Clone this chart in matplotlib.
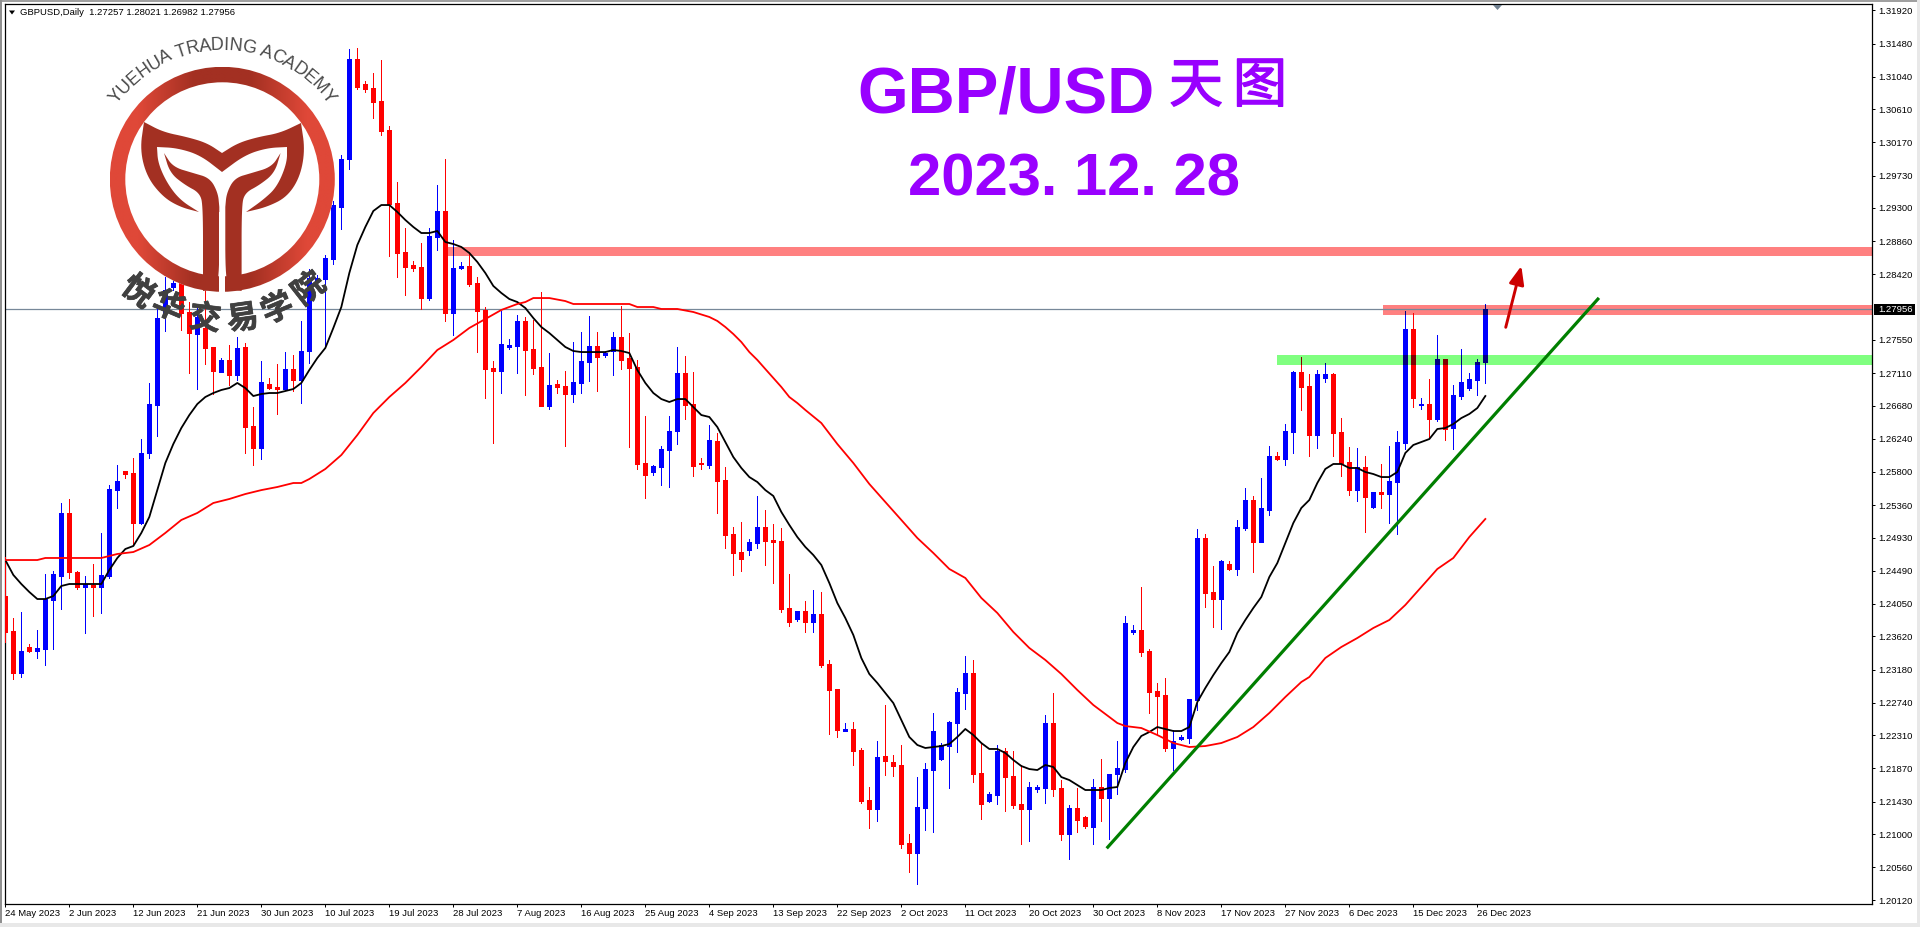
import matplotlib
matplotlib.use('Agg')
import matplotlib.pyplot as plt
import matplotlib.patheffects as pe
import numpy as np
from matplotlib.font_manager import FontProperties
from matplotlib.patches import Circle, Polygon, Rectangle
from matplotlib.textpath import text_to_path

plt.rcParams['font.family'] = ['Liberation Sans', 'Noto Sans CJK SC']

# prices are in MT4 points (1/100000)
highs = [124673,123864,123944,123520,123705,124448,124487,125389,125442,124487,
         124421,124580,124992,125627,125893,125813,125986,126237,126980,128014,
         128385,128371,128371,128053,128014,128212,127457,127311,127483,127589,
         127510,126661,127271,127046,127232,127390,127351,127802,128491,128411,
         128676,129392,130002,131407,131421,130983,131089,131262,130387,129644,
         129034,128597,128836,129034,129604,129949,128875,128584,128716,128385,
         127987,127271,127934,127563,127881,127855,127815,128186,127377,127019,
         127139,127523,127656,127868,127656,127404,127656,128000,127642,127285,
         126542,125893,126145,126542,127457,127337,127126,125986,126423,126317,
         125866,125071,125137,124911,125482,125296,125111,125058,124448,123957,
         124090,124235,124209,123308,122923,122472,122486,122141,121624,122234,
         122711,122048,122181,121000,121756,121942,122605,122207,122499,122936,
         123361,123308,122207,121557,122181,122141,122101,121916,121690,121650,
         122578,122870,121716,121385,121611,121239,121730,121995,121796,122234,
         123891,123771,124275,123453,123003,123069,122379,122313,122790,125045,
         124978,124554,124633,124620,125164,125587,125482,125720,126145,126065,
         126436,127139,127324,127099,127152,127245,127112,126515,126131,126118,
         126012,125535,125906,126145,126343,127934,127908,126781,127033,127616,
         127298,126953,127430,127112,127298,128021]
lows = [123546,123055,123082,123414,123334,123241,123453,123984,124395,124249,
        123665,123891,123931,124395,125323,125720,124832,125111,125986,126277,
        127669,128212,127682,127112,126900,127232,126834,127126,126953,127019,
        126052,125893,125972,126900,126569,126887,126874,126714,127245,128319,
        127483,128557,129021,129817,130877,130837,130493,130267,128663,128385,
        128146,128464,127961,128080,128743,127802,127616,128491,128266,127390,
        126781,126184,126847,127430,127112,126821,127099,126675,126635,126847,
        126145,126728,126847,127006,126874,127324,127086,127165,126131,125840,
        125455,125760,125627,125601,126171,126502,125747,125840,125853,125257,
        124792,124435,124487,124699,124792,124567,124328,123944,123758,123824,
        123679,123679,123214,122326,122287,122366,121916,121411,121080,121173,
        121783,121769,120815,120497,120337,121054,121027,121982,121611,122088,
        122658,121690,121200,121424,121398,121305,121345,120868,120908,121557,
        121411,121504,120921,120669,121027,121080,120868,121173,120934,121531,
        121823,123652,123361,122605,122313,122101,121849,122247,122207,122645,
        124010,123745,123718,124501,124435,125031,124474,124872,125230,125959,
        125893,126052,126622,126012,126118,126993,126012,125747,125494,125416,
        125005,125323,125323,125124,124978,126105,126661,126635,126264,126476,
        126224,126105,126767,126887,126821,126982]
opens = [124156,123692,123135,123480,123427,123453,124103,124421,125257,124474,
         124275,124302,124275,124421,125560,125813,125786,125124,126052,126688,
         127908,128252,128305,127921,127629,127709,127457,127126,127285,127086,
         127457,126409,126118,126966,126927,126900,127165,127019,127404,128332,
         128358,128623,129313,129949,131275,130943,130890,130718,130334,129366,
         128716,128544,128517,128106,128915,129260,127908,128504,128531,128305,
         127948,127178,127139,127457,127470,127802,127430,127192,126675,126966,
         126940,126834,126980,127258,127470,127351,127404,127589,127311,127192,
         125919,125800,125866,126091,126343,127112,126701,125919,125893,126211,
         125694,124978,124739,124766,124858,125071,124898,124885,123997,123851,
         123957,123811,123917,123255,122923,122366,122393,122114,121451,121332,
         122035,121955,121916,120881,120748,121345,121849,121995,122167,122472,
         122870,123135,121809,121438,121517,122101,121769,121398,121332,121597,
         121611,122472,121611,121000,121345,121226,121093,121624,121478,121796,
         121862,123679,123705,123427,122896,122843,122141,122260,122273,122777,
         124925,124209,124116,124580,124514,125058,125429,124872,125296,126012,
         125972,126330,127126,126940,126290,127046,127099,126330,125932,125560,
         125866,125336,125535,125508,125667,126184,127695,126688,126701,126502,
         127298,126383,126807,126913,127019,127257]
closes = [123679,123135,123427,123427,123467,124116,124448,125257,124474,124275,
          124315,124275,124435,125574,125681,125773,125124,126052,126701,127841,
          128212,128305,127908,127642,127855,127444,127139,127285,127086,127444,
          126396,126118,126993,126913,126900,127165,127019,127404,128371,128371,
          128637,129339,129949,131275,130904,130877,130705,130320,129353,128703,
          128517,128504,128106,128928,129260,127908,128504,128531,128292,127934,
          127165,127139,127497,127483,127802,127417,127178,126675,126953,126927,
          126834,126993,127271,127470,127324,127377,127589,127285,127178,125906,
          125760,125879,126105,126343,127112,126688,125879,125906,126224,125681,
          124965,124726,124646,124872,125071,124885,124872,123984,123811,123957,
          123811,123917,123241,122910,122379,122393,122101,121438,121332,122022,
          121969,121902,120868,120748,121358,121862,122366,122181,122486,122883,
          123135,121796,121398,121531,122101,121756,121385,121332,121624,121624,
          122472,121597,121000,121345,121186,121107,121624,121478,121796,121876,
          123798,123705,123414,122883,122830,122141,122234,122287,122790,124925,
          124196,124116,124620,124514,125071,125429,124872,125323,126012,125972,
          126343,127126,126927,126290,127099,127099,126317,125919,125560,125866,
          125468,125535,125508,125681,126197,127695,126781,126701,126502,127298,
          126370,126821,126993,127033,127258,127956]

# black moving average, one value per candle
ma_black = [124633,124435,124315,124209,124116,124116,124156,124289,124315,124315,
            124315,124315,124315,124501,124660,124779,124819,124992,125204,125560,
            125919,126171,126383,126555,126701,126794,126847,126887,126913,126980,
            126913,126807,126834,126847,126847,126874,126900,126980,127152,127311,
            127444,127709,127987,128438,128809,129048,129260,129339,129339,129247,
            129141,129048,128968,128968,128995,128849,128822,128783,128703,128584,
            128438,128266,128173,128093,128053,127974,127841,127722,127642,127550,
            127457,127404,127390,127390,127390,127390,127417,127404,127377,127152,
            126980,126847,126767,126728,126767,126767,126661,126555,126529,126396,
            126197,125998,125853,125733,125667,125560,125482,125270,125098,124938,
            124806,124699,124567,124328,124063,123864,123639,123334,123122,123003,
            122870,122737,122512,122287,122181,122141,122154,122167,122194,122287,
            122393,122313,122207,122128,122128,122075,121982,121902,121862,121849,
            121916,121889,121756,121716,121650,121584,121584,121584,121611,121624,
            121942,122154,122300,122353,122419,122393,122366,122366,122419,122750,
            122936,123108,123267,123414,123665,123838,123997,124143,124408,124593,
            124858,125124,125323,125429,125654,125840,125906,125906,125853,125853,
            125800,125773,125733,125733,125800,126052,126158,126197,126237,126370,
            126383,126436,126515,126569,126648,126807]

# red moving average, read at these candles
ma_red_idx = [0,4,5,8,12,14,16,18,20,22,24,26,28,30,32,34,36,37,38,40,42,44,46,48,50,
              52,54,56,58,60,62,64,65,66,68,70,71,78,79,81,82,84,86,88,89,90,91,92,93,
              94,95,96,97,98,99,100,102,104,106,108,110,112,114,116,118,120,122,124,
              126,128,130,132,134,136,138,139,140,142,144,146,148,150,152,154,156,158,
              160,162,163,165,167,169,171,173,175,177,179,181,183,185]
ma_red = [124633,124633,124660,124660,124660,124713,124739,124832,124992,125164,125257,
          125389,125442,125508,125560,125601,125654,125654,125707,125840,126025,126290,
          126582,126794,126980,127192,127417,127550,127709,127828,127948,128027,128053,
          128106,128106,128066,128027,128027,127987,127987,127961,127961,127921,127855,
          127802,127722,127629,127523,127390,127285,127165,127046,126927,126794,126714,
          126622,126449,126171,125919,125641,125402,125164,124925,124726,124514,124395,
          124130,123931,123679,123467,123308,123122,122910,122711,122552,122472,122432,
          122406,122313,122207,122154,122167,122207,122287,122419,122605,122817,123016,
          123082,123334,123480,123599,123732,123838,124037,124275,124514,124660,124938,
          125177]

x_tick_idx = [0,8,16,24,32,40,48,56,64,72,80,88,96,104,112,120,128,136,144,152,160,168,176,184]
x_labels = ['24 May 2023','2 Jun 2023','12 Jun 2023','21 Jun 2023','30 Jun 2023','10 Jul 2023',
            '19 Jul 2023','28 Jul 2023','7 Aug 2023','16 Aug 2023','25 Aug 2023','4 Sep 2023',
            '13 Sep 2023','22 Sep 2023','2 Oct 2023','11 Oct 2023','20 Oct 2023','30 Oct 2023',
            '8 Nov 2023','17 Nov 2023','27 Nov 2023','6 Dec 2023','15 Dec 2023','26 Dec 2023']
y_ticks = [1.31920,1.31480,1.31040,1.30610,1.30170,1.29730,1.29300,1.28860,1.28420,
           1.27550,1.27110,1.26680,1.26240,1.25800,1.25360,1.24930,1.24490,1.24050,
           1.23620,1.23180,1.22740,1.22310,1.21870,1.21430,1.21000,1.20560,1.20120]

last_price = 1.27956
# zones: first candle, low price, high price, colour
zones = [(55.2, 1.28663, 1.28783, '#FF8080'),
         (172.2, 1.27881, 1.28014, '#FF8080'),
         (159.0, 1.27218, 1.27351, '#80FF80')]
trend_x = [137.67, 199.2]
trend_y = [1.20811, 1.28108]
arrow_x = [187.55, 189.5]
arrow_y = [1.27718, 1.28531]

W, H = 1920, 927
fig = plt.figure(figsize=(W/100, H/100), dpi=100, facecolor='white')

# plot frame in pixels: x 4.7..1872.3, y 4.3..904.3
ax = fig.add_axes([4.7/W, (H-904.3)/H, 1867.6/W, 900/H], zorder=1)
ax.set_xlim((4.7-5.33)/8, (1872.3-5.33)/8)
ax.set_ylim(1.20069, 1.32000)

o = np.array(opens)/1e5
h = np.array(highs)/1e5
l = np.array(lows)/1e5
c = np.array(closes)/1e5
idx = np.arange(len(o))
up = c >= o


def candles(col_up, col_down, z, clip=None):
    cols = [col_up if u else col_down for u in up]
    wick = ax.vlines(idx, l, h, colors=cols, lw=0.72, antialiased=False, zorder=z)
    body = ax.vlines(idx, np.minimum(o, c), np.maximum(o, c), colors=cols, lw=3.6,
                     antialiased=False, zorder=z)
    if clip is not None:
        wick.set_clip_path(clip)
        body.set_clip_path(clip)


x_right = ax.get_xlim()[1]
for x0, lo, hi, col in zones:
    ax.add_patch(Rectangle((x0, lo), x_right-x0, hi-lo, fc=col, ec='none', zorder=1))

ax.axhline(last_price, color='#778899', lw=0.9, zorder=2)
candles('#0000FF', '#FF0000', 3)

# zones multiply the candles under them
for x0, lo, hi, col in zones:
    rect = Rectangle((x0, lo), x_right-x0, hi-lo, transform=ax.transData)
    candles('#000080', '#800000' if col == '#80FF80' else '#FF0000', 3.5, clip=rect)

ax.plot(idx, np.array(ma_black)/1e5, color='black', lw=1.3, zorder=4)
ax.plot(ma_red_idx, np.array(ma_red)/1e5, color='#FF0000', lw=1.3, zorder=4)
ax.plot(trend_x, trend_y, color='#007F00', lw=2.3, solid_capstyle='butt', zorder=5)
ax.annotate('', xy=(arrow_x[1], arrow_y[1]), xytext=(arrow_x[0], arrow_y[0]), zorder=5,
            arrowprops=dict(arrowstyle='-|>,head_length=1.1,head_width=0.45', color='#CC0000',
                            lw=2.1, shrinkA=0, shrinkB=0, mutation_scale=10))

ax.set_xticks(x_tick_idx, x_labels, ha='left')
ax.set_yticks(y_ticks, ['%.5f' % v for v in y_ticks])
ax.yaxis.tick_right()
ax.tick_params(axis='x', length=2.2, width=0.72, pad=1.5, labelsize=6.8)
ax.tick_params(axis='y', length=2.2, width=0.72, pad=2.2, labelsize=6.8)
for s in ax.spines.values():
    s.set_linewidth(0.9)

# everything below is placed in screen pixels
ov = fig.add_axes([0, 0, 1, 1], zorder=2)
ov.set_xlim(0, W)
ov.set_ylim(H, 0)
ov.axis('off')
ov.patch.set_alpha(0)

# window edges
ov.add_patch(Rectangle((0, 0), W, 1.6, fc='#A0A0A0', ec='none'))
ov.add_patch(Rectangle((0, 0), 1.5, H, fc='#909090', ec='none'))
ov.add_patch(Rectangle((0, 923), W, 4, fc='#E8E8E8', ec='none'))
ov.add_patch(Rectangle((1917, 0), 3, H, fc='#E8E8E8', ec='none'))

ov.add_patch(Polygon([(1493, 5), (1502, 5), (1497.5, 10)], fc='#708090', ec='none'))
ov.add_patch(Polygon([(9, 10.5), (15, 10.5), (12, 14.5)], fc='black', ec='none'))
ov.text(20, 12.5, 'GBPUSD,Daily  1.27257 1.28021 1.26982 1.27956', fontsize=6.8,
        color='black', va='center', ha='left')

# last price box
ov.add_patch(Rectangle((1874, 304), 41, 11, fc='black', ec='none'))
ov.text(1878, 309.5, '%.5f' % last_price, fontsize=6.8, color='white', va='center', ha='left')

# titles
PURPLE = '#9900FF'
ov.text(857, 112, 'GBP/USD', fontsize=47, fontweight='bold', color=PURPLE, va='baseline', ha='left')
for ch, px in [('天', 1196), ('图', 1260)]:
    ov.text(px, 88, ch, fontsize=39, color=PURPLE, va='center', ha='center',
            path_effects=[pe.withStroke(linewidth=1.0, foreground=PURPLE)])
ov.text(1074, 195, '2023. 12. 28', fontsize=43, fontweight='bold', color=PURPLE,
        va='baseline', ha='center')


# logo
def smooth(pts, n=3):
    pts = np.array(pts, float)
    for _ in range(n):
        q = 0.75*pts[:-1] + 0.25*pts[1:]
        r = 0.25*pts[:-1] + 0.75*pts[1:]
        mid = np.empty((2*len(q), 2))
        mid[0::2] = q
        mid[1::2] = r
        pts = np.vstack([pts[0], mid, pts[-1]])
    return pts


LX, LY = 222.3, 179.3
DARK = '#A33022'
ov.add_patch(Circle((LX, LY), 112.5, fc='white', ec='none', zorder=3))
ramp = np.array([[[0xDF, 0x48, 0x38]], [[0xA3, 0x30, 0x22]], [[0xA3, 0x30, 0x22]], [[0xDF, 0x48, 0x38]]],
                dtype=float).transpose(1, 0, 2)/255
im = ov.imshow(ramp, extent=(LX-112.5, LX+112.5, LY+112.5, LY-112.5), aspect='auto',
               interpolation='bilinear', zorder=3.1)
im.set_clip_path(Circle((LX, LY), 112.5, transform=ov.transData))
ov.set_xlim(0, W)
ov.set_ylim(H, 0)
ov.add_patch(Circle((LX, LY), 97, fc='white', ec='none', zorder=3.2))

wings = np.vstack([
    smooth([(144,122),(163,132),(187,137),(207,143),(222,153)]),
    smooth([(222,153),(238,143),(258,137),(280,133),(301,123)]),
    smooth([(301,123),(305,150),(300,177),(287,197),(267,207),(246,212)]),
    smooth([(246,212),(263,200),(277,187),(287,163),(287,147)]),
    smooth([(287,147),(267,148),(245,155),(222,172)]),
    smooth([(222,172),(200,155),(177,148),(157,147)]),
    smooth([(157,147),(158,163),(167,183),(180,200),(199,212)]),
    smooth([(199,212),(180,207),(163,197),(147,177),(140,150),(144,122)]),
])
ov.add_patch(Polygon(wings, fc=DARK, ec='none', zorder=3.3))

stem = np.vstack([
    smooth([(164,153),(173,167),(193,173),(210,178),(218,193),(219.3,207)]),
    smooth([(219.3,207),(219.3,282),(213,289),(203,291)]),
    smooth([(203,274),(203,207),(200,193),(185,185),(170,173),(164,153)]),
])
ov.add_patch(Polygon(stem, fc=DARK, ec='none', zorder=3.3))
mirror = stem.copy()
mirror[:, 0] = 2*LX - mirror[:, 0]
ov.add_patch(Polygon(mirror, fc=DARK, ec='none', zorder=3.3))
ov.add_patch(Rectangle((219.3, 212), 6, 82, fc='white', ec='none', zorder=3.4))

# arc lettering
ARC = 'YUEHUA TRADING ACADEMY'
fp = FontProperties(family='Liberation Sans', size=18)
widths = [text_to_path.get_text_width_height_descent(ch, fp, False)[0] for ch in ARC]
widths = [w if w > 0 else 5 for w in widths]
R = 134.0
s = -sum(widths)/2
for ch, w in zip(ARC, widths):
    th = (s + w/2)/R
    ov.text(LX + R*np.sin(th), LY - R*np.cos(th), ch, fontsize=13, color='#4A4A4A',
            rotation=-np.degrees(th), rotation_mode='anchor', ha='center', va='center', zorder=3.5)
    s += w

for ch, px, py, rot in [('悦', 137, 293, -37), ('华', 168, 308, -23), ('交', 205, 320, -7),
                        ('易', 243, 320, 8), ('学', 278, 310, 23), ('院', 310, 290, 38)]:
    ov.text(px, py, ch, fontsize=23, fontweight='bold', color='#404040', rotation=rot,
            rotation_mode='anchor', ha='center', va='center', zorder=3.5,
            path_effects=[pe.withStroke(linewidth=0.5, foreground='#404040')])

fig.savefig('out.png', dpi=100, facecolor='white')
